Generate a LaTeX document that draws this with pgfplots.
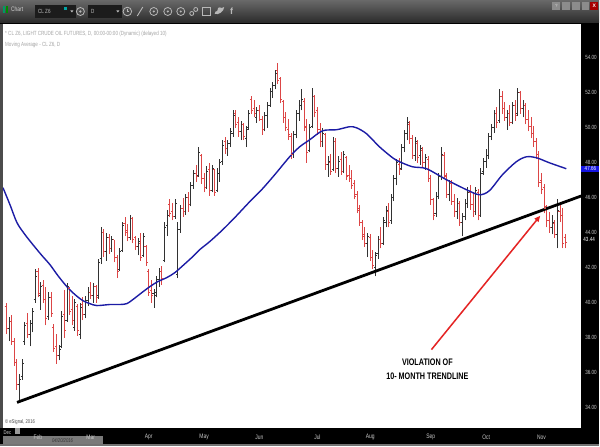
\documentclass[border=0pt]{standalone}
\usepackage{pgfplots}
\pgfplotsset{compat=1.18}
\usepackage{pgfplotstable}
\usepackage{fontspec}
\setmainfont{Liberation Sans}
\newfontfamily\narrow[FakeStretch=0.76]{Liberation Sans}
\usetikzlibrary{arrows.meta}

\definecolor{upc}{RGB}{50,50,50}
\definecolor{dnc}{RGB}{220,70,70}
\definecolor{mablue}{RGB}{28,28,165}
\definecolor{arrowred}{RGB}{228,35,35}
\definecolor{labgray}{RGB}{200,200,200}
\definecolor{tbtop}{RGB}{105,105,105}
\definecolor{tbbot}{RGB}{42,42,42}
\definecolor{boxc}{RGB}{28,28,28}
\definecolor{txtgray}{RGB}{165,165,165}

\pgfdeclareplotmark{otick}{\pgfpathmoveto{\pgfqpoint{-1.6pt}{0pt}}\pgfpathlineto{\pgfqpoint{0pt}{0pt}}\pgfusepathqstroke}
\pgfdeclareplotmark{ctick}{\pgfpathmoveto{\pgfqpoint{0pt}{0pt}}\pgfpathlineto{\pgfqpoint{1.6pt}{0pt}}\pgfusepathqstroke}

\pgfplotstableread{
t o h l c
-12 39.8 40.0 38.2 38.5
-11 38.5 39.2 37.8 38.9
-10 38.9 39.3 37.6 37.8
-9 37.8 38.0 36.4 36.6
-8 36.6 36.8 35.0 35.3
-7 35.3 35.9 34.3 35.6
-6 35.8 36.8 35.6 36.5
-5 37.8 38.9 37.6 38.7
-4 38.8 39.4 38.0 38.2
-3 38.2 39.0 37.5 38.8
-2 38.8 39.7 38.3 39.5
-1 40.2 41.9 40.0 41.5
0 41.8 42.0 40.3 40.5
1 40.4 41.2 39.6 40.9
2 41.0 41.3 40.0 40.2
3 40.2 40.9 38.7 39.1
4 39.2 40.6 39.0 40.3
5 40.3 40.6 39.2 39.4
6 38.6 38.8 37.2 37.4
7 37.5 38.2 36.5 37.0
8 37.0 37.6 36.7 37.3
9 37.5 39.5 37.4 39.2
10 39.3 40.7 38.0 38.4
11 39.0 41.1 38.9 40.9
12 40.8 40.9 39.3 39.5
13 39.6 40.4 38.7 39.0
14 38.6 40.2 38.4 40.0
15 39.8 39.9 38.1 38.4
16 38.2 40.0 37.9 39.7
17 39.9 40.3 39.0 39.3
18 39.3 40.4 39.1 40.1
19 40.1 40.9 39.8 40.6
20 40.6 41.2 40.2 40.4
21 40.4 41.1 40.0 40.9
22 40.9 41.0 40.0 40.3
23 40.4 42.5 40.2 42.3
24 42.5 44.3 42.2 44.0
25 44.0 44.2 42.6 42.9
26 42.9 44.0 42.4 43.7
27 43.7 43.9 42.8 43.1
28 43.1 43.8 42.9 43.6
29 43.6 43.6 42.3 42.6
30 42.6 42.7 41.4 41.8
31 41.9 43.1 41.8 42.9
32 43.0 44.6 42.9 44.4
33 44.5 44.9 43.8 44.0
34 44.1 44.5 43.5 43.7
35 43.7 45.0 43.6 44.8
36 44.8 44.9 43.4 43.6
37 43.7 43.8 43.0 43.2
38 43.2 43.7 42.7 43.5
39 43.4 44.0 42.4 42.6
40 42.7 44.0 42.6 43.8
41 43.2 43.3 42.1 42.3
42 41.8 41.9 40.4 40.6
43 40.7 41.3 40.0 40.4
44 40.5 40.8 39.7 40.6
45 40.4 41.5 40.3 41.3
46 41.3 42.0 40.9 41.8
47 41.8 42.1 41.0 41.4
48 42.4 44.6 42.3 44.3
49 44.4 45.3 43.8 45.0
50 45.6 45.9 44.9 45.1
51 45.2 45.7 44.7 44.9
52 44.9 45.9 44.8 45.7
53 41.6 44.6 41.4 44.2
54 44.2 45.6 44.0 45.4
55 45.4 46.0 44.9 45.2
56 45.2 46.2 45.0 46.0
57 46.0 46.3 45.2 45.6
58 45.6 46.9 45.5 46.7
59 46.7 47.6 46.5 47.4
60 47.4 47.9 46.9 47.2
61 47.3 48.9 47.2 48.6
62 48.4 48.5 46.8 47.1
63 47.1 47.4 46.3 46.6
64 46.6 47.8 46.5 47.5
65 47.6 48.0 46.1 46.4
66 46.4 47.9 46.3 47.7
67 47.6 47.6 46.1 46.3
68 46.4 47.7 46.3 47.4
69 47.4 48.2 46.9 48.0
70 48.1 49.3 47.9 49.0
71 49.2 49.5 48.5 48.8
72 48.8 49.3 48.4 49.1
73 49.1 50.0 48.9 49.8
74 49.7 51.0 49.5 50.7
75 50.8 51.0 50.0 50.2
76 50.3 50.6 49.5 49.8
77 49.8 50.4 49.3 50.2
78 50.2 50.3 49.3 49.5
79 49.4 50.1 48.9 49.9
80 50.0 51.0 49.9 50.8
81 51.6 51.8 50.8 51.0
82 51.1 51.6 50.6 50.8
83 50.6 51.2 50.3 51.0
84 51.0 51.3 50.4 50.5
85 50.5 50.7 49.6 49.9
86 49.9 50.9 49.8 50.7
87 50.7 51.5 50.0 51.3
88 51.3 52.3 51.2 52.1
89 52.1 52.6 51.7 52.4
90 52.4 53.3 52.2 53.1
91 53.3 53.7 52.5 52.7
92 52.8 52.9 51.4 51.6
93 51.5 51.6 50.3 50.6
94 50.6 50.9 49.8 50.0
95 49.9 50.5 49.3 49.6
96 49.5 49.7 48.2 48.5
97 48.5 49.8 48.3 49.6
98 49.6 51.0 49.4 50.8
99 50.8 51.6 50.4 51.3
100 51.3 52.2 51.0 51.6
101 51.5 51.7 49.8 50.1
102 50.0 50.5 48.0 48.6
103 48.7 50.2 48.6 50.0
104 50.1 52.3 50.0 51.8
105 51.8 51.9 50.6 50.9
106 51.0 51.2 49.6 49.9
107 49.9 50.3 48.9 49.2
108 49.2 50.0 48.9 49.7
109 49.6 49.7 47.6 47.9
110 47.9 48.4 47.2 48.1
111 48.0 48.5 47.3 47.5
112 47.6 49.5 47.5 49.2
113 49.2 49.4 47.4 47.7
114 47.7 48.4 47.2 48.1
115 48.2 48.6 47.3 47.5
116 47.5 48.7 47.4 48.5
117 48.3 48.4 47.0 47.2
118 47.3 47.9 46.9 47.1
119 47.1 47.6 46.5 46.7
120 46.8 47.0 45.9 46.1
121 46.2 46.4 45.1 45.3
122 45.4 45.6 44.4 44.6
123 44.6 44.7 43.6 43.8
124 43.9 44.3 43.2 43.4
125 43.4 44.0 42.6 43.8
126 43.7 43.9 42.4 42.6
127 42.6 43.0 41.9 42.1
128 42.0 42.9 41.5 42.7
129 42.8 43.8 42.5 43.6
130 43.6 44.3 43.1 43.4
131 43.4 44.9 43.3 44.7
132 44.6 45.5 44.3 45.3
133 45.2 45.7 44.3 44.6
134 44.7 46.2 44.5 46.0
135 46.0 47.3 45.8 47.1
136 47.1 48.2 46.7 48.0
137 47.9 48.3 47.3 47.6
138 47.7 49.1 47.6 48.9
139 48.9 49.9 48.6 49.7
140 49.7 50.6 49.3 50.3
141 50.2 50.4 49.1 49.4
142 49.4 49.6 48.2 48.4
143 48.4 49.5 48.1 49.2
144 49.1 49.3 48.0 48.3
145 48.4 49.0 47.9 48.8
146 48.7 48.9 47.7 48.0
147 48.0 48.5 47.6 48.3
148 48.2 48.4 46.9 47.1
149 47.1 47.3 45.6 45.9
150 45.9 46.0 44.7 45.0
151 45.1 46.3 44.9 46.1
152 46.1 47.4 45.9 47.2
153 47.2 48.9 47.0 48.5
154 48.4 48.6 47.1 47.3
155 47.2 47.4 46.0 46.2
156 46.2 47.0 45.8 46.8
157 46.8 47.0 45.6 45.8
158 45.8 46.2 44.9 45.2
159 45.2 46.0 44.8 45.7
160 45.7 45.8 44.4 44.6
161 44.6 45.1 43.8 44.9
162 44.9 45.9 44.7 45.7
163 45.7 46.6 45.4 46.3
164 46.3 46.7 45.3 45.6
165 45.6 46.3 44.9 45.2
166 45.2 46.6 45.0 46.4
167 46.3 46.5 44.7 45.0
168 45.0 47.7 44.9 47.4
169 47.5 48.3 47.3 48.1
170 48.1 48.8 47.7 48.4
171 48.4 49.7 48.2 49.5
172 49.5 50.2 49.3 50.0
173 50.0 51.0 49.7 50.8
174 50.8 51.2 50.0 50.3
175 50.4 52.2 50.3 51.8
176 51.8 52.1 50.8 51.1
177 51.1 51.5 50.4 50.6
178 50.6 51.0 49.9 50.8
179 50.8 51.3 50.1 50.3
180 50.3 51.5 50.2 51.3
181 51.3 51.6 50.4 50.7
182 50.8 52.3 50.7 52.0
183 52.0 52.1 50.8 51.1
184 51.1 51.6 50.6 51.3
185 51.3 51.4 50.2 50.5
186 50.5 51.0 49.8 50.1
187 50.1 50.6 49.4 49.7
188 49.7 50.1 48.9 49.2
189 49.2 49.4 48.2 48.5
190 48.5 48.7 46.6 46.9
191 47.0 47.4 46.2 46.5
192 46.6 46.8 45.1 45.4
193 45.5 45.6 44.3 44.7
194 44.7 45.2 44.0 44.3
195 44.3 45.0 43.9 44.6
196 44.5 44.7 43.7 43.9
197 43.9 45.9 43.1 45.3
198 45.2 45.7 44.6 45.0
199 45.0 45.4 43.1 43.4
200 43.7 43.9 43.1 43.44
}\ohlc

\pgfplotstableread{
t ma
-13.26 46.57
-10.61 45.60
-7.95 44.57
-4.92 43.89
-1.89 43.31
1.52 42.69
4.55 42.17
7.58 41.54
10.98 40.91
14.02 40.46
17.05 40.11
19.70 39.94
22.35 39.83
27.27 39.89
31.06 39.89
33.71 39.94
35.98 40.17
39.39 40.57
42.42 40.91
45.45 41.20
48.86 41.43
51.89 41.71
54.92 42.11
58.71 42.63
61.36 43.03
65.15 43.49
70.08 44.17
74.62 44.86
80.30 45.77
84.85 46.46
89.77 47.31
95.45 48.34
99.24 48.91
103.03 49.31
107.95 49.83
113.26 49.89
118.18 50.06
120.83 50.00
124.62 49.66
129.55 48.91
134.47 48.29
137.12 48.06
142.05 47.77
147.35 47.66
154.92 47.03
162.50 46.46
167.42 46.17
171.21 46.40
176.14 47.31
181.44 48.06
185.23 48.34
189.02 48.29
193.94 48.00
200.38 47.66
}\madata

\begin{document}
\begin{tikzpicture}
% frame and background
\fill[black!78] (0pt,0pt) rectangle (600pt,447pt);
\shade[top color=tbtop, bottom color=tbbot] (0pt,424pt) rectangle (600pt,447pt);
\fill[black] (0pt,422.5pt) rectangle (600pt,424pt);
\fill[white] (3pt,18pt) rectangle (582pt,423pt);
\fill[black] (582pt,18pt) rectangle (600pt,423pt);
\fill[black] (0pt,2pt) rectangle (600pt,18pt);
\fill[black!55] (0pt,0pt) rectangle (600pt,2pt);
\fill[black!70] (0pt,18pt) rectangle (3pt,423pt);
% toolbar
\fill[teal!80!green] (3pt,434pt) rectangle (5pt,441pt);
\fill[green!55!black] (5.6pt,434pt) rectangle (7.6pt,441pt);
\node[anchor=west, inner sep=0pt, font=\narrow\fontsize{6.5}{7}\selectfont, text=white!82!black] at (11pt,437.5pt) {Chart};
\fill[boxc] (35pt,429pt) rectangle (76pt,442pt);
\node[anchor=west, inner sep=0pt, font=\narrow\fontsize{6}{7}\selectfont, text=white!75!black] at (38pt,435.5pt) {CL Z6};
\fill[teal!70!cyan] (64.5pt,437pt) rectangle (67pt,440pt);
\fill[white!75!black] (70.5pt,436.5pt) -- (73.5pt,436.5pt) -- (72pt,434.5pt) -- cycle;
\draw[white!72!black, line width=0.8pt] (80.5pt,435.5pt) circle (4pt);
\fill[white!72!black] (80.5pt,435.5pt) circle (1.3pt);
\fill[boxc] (88pt,429pt) rectangle (122pt,442pt);
\node[anchor=west, inner sep=0pt, font=\narrow\fontsize{6}{7}\selectfont, text=white!75!black] at (91pt,435.5pt) {D};
\fill[white!75!black] (116.5pt,436.5pt) -- (119.5pt,436.5pt) -- (118pt,434.5pt) -- cycle;
\draw[white!72!black, line width=0.8pt] (127.5pt,435.5pt) circle (4.3pt);
\draw[white!72!black, line width=0.6pt] (127.5pt,435.5pt) -- (127.5pt,438pt) (127.5pt,435.5pt) -- (129.5pt,435.5pt);
\draw[white!72!black, line width=0.9pt] (137.5pt,431pt) -- (143pt,440pt);
\draw[white!72!black, line width=0.8pt] (154pt,435.5pt) circle (4pt) (168pt,435.5pt) circle (4pt) (181pt,435.5pt) circle (4pt);
\fill[white!72!black] (154pt,435.5pt) circle (1.2pt) (168pt,435.5pt) circle (1.2pt) (181pt,435.5pt) circle (1.2pt);
\draw[white!72!black, line width=0.8pt] (192pt,433.5pt) circle (2pt) (196pt,437.5pt) circle (2pt);
\draw[white!72!black, line width=0.8pt] (203pt,431.5pt) rectangle (210.5pt,439.5pt);
\fill[white!72!black] (215pt,433pt) .. controls (219pt,432pt) and (224pt,435pt) .. (224.5pt,440pt) -- (222pt,439pt) .. controls (219pt,441pt) and (217pt,438pt) .. (217.5pt,436pt) .. controls (216pt,436pt) and (215pt,435pt) .. cycle;
\node[inner sep=0pt, font=\bfseries\fontsize{9}{9}\selectfont, text=white!72!black] at (232pt,436pt) {f};
\fill[black!45] (553pt,437pt) rectangle (561pt,445pt);
\fill[black!45] (563pt,437pt) rectangle (571pt,445pt);
\fill[black!45] (573pt,437pt) rectangle (581pt,445pt);
\fill[black!45] (583pt,437pt) rectangle (590pt,445pt);
\fill[red!65!black] (591pt,437pt) rectangle (599pt,445pt);
\node[inner sep=0pt, font=\fontsize{4.5}{5}\selectfont, text=white!85!black] at (557pt,441pt) {?};
\node[inner sep=0pt, font=\bfseries\fontsize{5}{5}\selectfont, text=white] at (595pt,441pt) {X};
% captions inside plot
\node[anchor=west, inner sep=0pt, font=\narrow\fontsize{6}{7}\selectfont, text=txtgray] at (5pt,413pt) {* CL Z6, LIGHT CRUDE OIL FUTURES, D, 00:00-00:00 (Dynamic) (delayed 10)};
\node[anchor=west, inner sep=0pt, font=\narrow\fontsize{6}{7}\selectfont, text=txtgray] at (5pt,401.5pt) {Moving Average - CL Z6, D};
\node[anchor=west, inner sep=0pt, font=\narrow\fontsize{5.5}{6}\selectfont, text=black!70] at (5pt,24.5pt) {\textcopyright\ eSignal, 2016};
% bottom-left widget band (behind labels)
\fill[black!52] (3pt,2.5pt) rectangle (103pt,10pt);
\fill[black!40] (15pt,12pt) rectangle (20pt,18pt);

\begin{axis}[
  at={(3pt,18pt)}, anchor=south west, scale only axis,
  width=579pt, height=405pt,
  xmin=-13.26, xmax=206.06, ymin=32.8, ymax=55.94,
  axis line style={draw=none}, major tick length=0pt,
  ytick={34,36,38,40,42,44,46,48,50,52,54},
  yticklabel pos=right,
  yticklabel style={font=\narrow\fontsize{6}{7}\selectfont, text=labgray, anchor=west, xshift=0.5pt},
  xtick={0,20,42,63,84,106,126,149,170,191},
  xticklabels={Feb,Mar,Apr,May,Jun,Jul,Aug,Sep,Oct,Nov},
  xticklabel style={font=\narrow\fontsize{6.5}{7}\selectfont, text=labgray, anchor=center, yshift=-8.5pt},
  /pgf/number format/fixed, /pgf/number format/fixed zerofill,
  /pgf/number format/precision=2, /pgf/number format/assume math mode=true,
]
% up bars
\addplot[draw=none, mark=none, forget plot,
  restrict expr to domain={\thisrow{c}-\thisrow{o}}{0:100},
  error bars/.cd, y dir=plus, y explicit, error mark=none,
  error bar style={draw=upc, line width=0.9pt}]
  table[x=t, y=l, y error expr=\thisrow{h}-\thisrow{l}] {\ohlc};
\addplot[only marks, mark=otick, color=upc, mark options={line width=0.9pt}, forget plot,
  restrict expr to domain={\thisrow{c}-\thisrow{o}}{0:100}]
  table[x=t, y=o] {\ohlc};
\addplot[only marks, mark=ctick, color=upc, mark options={line width=0.9pt}, forget plot,
  restrict expr to domain={\thisrow{c}-\thisrow{o}}{0:100}]
  table[x=t, y=c] {\ohlc};
% down bars
\addplot[draw=none, mark=none, forget plot,
  restrict expr to domain={\thisrow{c}-\thisrow{o}}{-100:-0.0001},
  error bars/.cd, y dir=plus, y explicit, error mark=none,
  error bar style={draw=dnc, line width=0.9pt}]
  table[x=t, y=l, y error expr=\thisrow{h}-\thisrow{l}] {\ohlc};
\addplot[only marks, mark=otick, color=dnc, mark options={line width=0.9pt}, forget plot,
  restrict expr to domain={\thisrow{c}-\thisrow{o}}{-100:-0.0001}]
  table[x=t, y=o] {\ohlc};
\addplot[only marks, mark=ctick, color=dnc, mark options={line width=0.9pt}, forget plot,
  restrict expr to domain={\thisrow{c}-\thisrow{o}}{-100:-0.0001}]
  table[x=t, y=c] {\ohlc};
% moving average
\addplot[mablue, line width=1.4pt, smooth, mark=none] table[x=t, y=ma] {\madata};
% trendline
\addplot[black, line width=2.8pt, mark=none] coordinates {(-7.95,34.29) (206.06,46.10)};
% arrow and text
\draw[arrowred, line width=1.5pt, -{Triangle[length=6pt,width=5pt]}] (axis cs:149.24,37.31) -- (axis cs:190.5,44.97);
\node[align=center, inner sep=0pt, font=\narrow\bfseries\fontsize{9.5}{14}\selectfont] at (axis cs:147.7,36.17) {VIOLATION OF\\10- MONTH TRENDLINE};
\coordinate (mapt) at (axis cs:206.06,47.66);
\coordinate (lastpt) at (axis cs:206.06,43.62);
\end{axis}
% right-hand value boxes
\node[anchor=west, fill={rgb,255:red,20;green,20;blue,225}, text=white, inner xsep=1.5pt, inner ysep=1pt, minimum width=18pt, font=\narrow\fontsize{6}{7}\selectfont] at (mapt) {47.66};
\node[anchor=west, fill=black, text=white, inner xsep=2pt, inner ysep=0.5pt, font=\narrow\fontsize{6}{7}\selectfont] at (lastpt) {43.44};
% bottom-left widget texts
\node[anchor=west, inner sep=0pt, font=\narrow\fontsize{5.5}{6}\selectfont, text=white!85!black] at (3.5pt,14pt) {Dec};
\node[anchor=west, inner sep=0pt, font=\narrow\itshape\fontsize{5.5}{6}\selectfont, text=black!80] at (52pt,6pt) {04/20/2016};
\end{tikzpicture}
\end{document}
